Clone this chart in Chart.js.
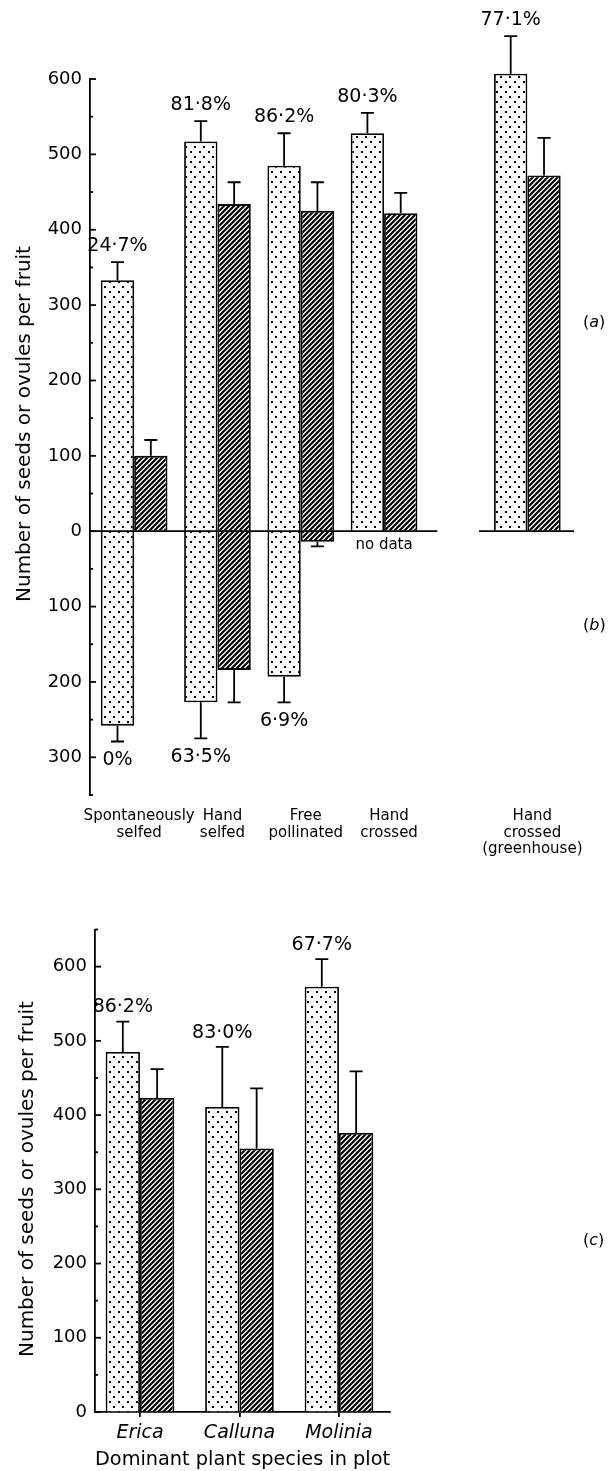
<!DOCTYPE html>
<html>
<head>
<meta charset="utf-8">
<title>Seeds and ovules per fruit</title>
<script src="https://cdn.jsdelivr.net/npm/chart.js@4/dist/chart.umd.min.js"></script>
<style>
  html, body { margin: 0; padding: 0; background: #fff; }
  #page { position: relative; width: 612px; height: 1471px; overflow: hidden;
          font-family: "DejaVu Sans", sans-serif; color: #000; }
  #page canvas { position: absolute; left: 0; }
  .ytitle { position: absolute; white-space: nowrap; font-size: 20px; line-height: 1;
            transform: translate(-50%, -50%) rotate(-90deg); }
  .panel { position: absolute; font-size: 16px; line-height: 1; transform: translateY(-50%); }
</style>
</head>
<body>
<div id="page">
  <canvas id="treatments" width="612" height="870" style="top:0"></canvas>
  <canvas id="plots" width="612" height="571" style="top:900px"></canvas>
  <div class="ytitle" style="left:23px; top:424px">Number of seeds or ovules per fruit</div>
  <div class="ytitle" style="left:26px; top:1179px">Number of seeds or ovules per fruit</div>
  <div class="panel" style="left:583px; top:322px">(<i>a</i>)</div>
  <div class="panel" style="left:583px; top:625px">(<i>b</i>)</div>
  <div class="panel" style="left:583px; top:1240px">(<i>c</i>)</div>
</div>
<script>
// ---- Pollination treatments, panels (a) and (b) ----
const treatments = [
  ['Spontaneously', 'selfed'],
  ['Hand', 'selfed'],
  ['Free', 'pollinated'],
  ['Hand', 'crossed'],
  ['Hand', 'crossed', '(greenhouse)']
];
// position of each treatment on the x axis (greenhouse set apart)
const treatmentPos = [1, 2, 3, 4, 5.72];

// (a) upper panel
const ovulesA    = [333, 517, 485, 528, 607];
const ovulesAErr = [24, 27, 43, 27, 50];
const seedsA     = [100, 434, 425, 422, 472];
const seedsAErr  = [21, 29, 38, 27, 50];
const pctA       = ['24·7%', '81·8%', '86·2%', '80·3%', '77·1%'];

// (b) lower panel, plotted downward from zero
const ovulesB    = [258, 227, 193, null, null];
const ovulesBErr = [21, 48, 34, null, null];
const seedsB     = [null, 184, 14, null, null];
const seedsBErr  = [null, 43, 6, null, null];
const pctB       = ['0%', '63·5%', '6·9%', '', ''];
const notesB     = ['', '', '', 'no data', ''];

// ---- Dominant plant species in plot, panel (c) ----
const species    = ['Erica', 'Calluna', 'Molinia'];
const speciesPos = [1, 2, 3];
const ovulesC    = [485, 411, 573];
const ovulesCErr = [41, 81, 37];
const seedsC     = [423, 355, 376];
const seedsCErr  = [39, 81, 83];
const pctC       = ['86·2%', '83·0%', '67·7%'];

const INK = 1.8; // stroke width for axes, outlines and error bars

Chart.defaults.color = '#000';
Chart.defaults.font.family = '"DejaVu Sans", sans-serif';

// fill patterns: stipple for ovules, diagonal hatching for seeds
function makeDots() {
  const w = 9, h = 10;
  const c = document.createElement('canvas');
  c.width = w; c.height = h;
  const g = c.getContext('2d');
  g.fillStyle = '#fff'; g.fillRect(0, 0, w, h);
  g.fillStyle = '#000';
  g.fillRect(1, 1, 2, 2);
  g.fillRect(5, 6, 2, 2);
  return g.createPattern(c, 'repeat');
}
function makeHatch() {
  const s = 5;
  const c = document.createElement('canvas');
  c.width = s; c.height = s;
  const g = c.getContext('2d');
  g.fillStyle = '#fff'; g.fillRect(0, 0, s, s);
  g.strokeStyle = '#000'; g.lineWidth = 2.2;
  g.beginPath();
  [0, s, 2 * s].forEach(k => { g.moveTo(k - s - 1, s + 1); g.lineTo(k + 1, -1); });
  g.stroke();
  return g.createPattern(c, 'repeat');
}
const dots = makeDots();
const hatch = makeHatch();

function points(pos, vals, sign) {
  return pos.map((x, i) => ({ x, y: vals[i] == null ? null : sign * vals[i] }));
}
function barSet(label, data, stack, fill, err, extra) {
  return Object.assign({
    label, data, stack, err,
    backgroundColor: fill, borderColor: '#000', borderWidth: INK,
    categoryPercentage: 0.8, barPercentage: 1, clip: false
  }, extra || {});
}

// error bars (one-sided, away from zero) and value labels
const errorBars = {
  id: 'errorBars',
  afterDatasetsDraw(chart, args, opts) {
    const { ctx } = chart;
    const y = chart.scales.y;
    ctx.save();
    ctx.strokeStyle = '#000';
    ctx.lineWidth = INK;
    chart.data.datasets.forEach((ds, di) => {
      const meta = chart.getDatasetMeta(di);
      meta.data.forEach((bar, i) => {
        const v = ds.data[i].y;
        if (v == null || ds.err[i] == null) return;
        const dir = v < 0 ? -1 : 1;
        const yEnd = y.getPixelForValue(v + dir * ds.err[i]);
        ctx.beginPath();
        ctx.moveTo(bar.x, bar.y); ctx.lineTo(bar.x, yEnd);
        ctx.moveTo(bar.x - 6.5, yEnd); ctx.lineTo(bar.x + 6.5, yEnd);
        ctx.stroke();
        if (ds.pct && ds.pct[i]) {
          ctx.font = '19px "DejaVu Sans", sans-serif';
          ctx.fillStyle = '#000';
          ctx.textAlign = 'center';
          ctx.textBaseline = 'middle';
          const gap = dir > 0 ? opts.above : opts.below;
          ctx.fillText(ds.pct[i], bar.x, yEnd - dir * gap);
        }
      });
    });
    ctx.restore();
  }
};

// inward tick marks on the value axis, long at labelled values
const innerTicks = {
  id: 'innerTicks',
  afterDraw(chart) {
    const y = chart.scales.y;
    const ctx = chart.ctx;
    ctx.save();
    ctx.strokeStyle = '#000';
    ctx.lineWidth = INK;
    y.ticks.forEach(t => {
      const py = y.getPixelForValue(t.value);
      const len = t.value % 100 === 0 ? 6 : 3;
      ctx.beginPath();
      ctx.moveTo(y.right, py);
      ctx.lineTo(y.right + len, py);
      ctx.stroke();
    });
    ctx.restore();
  }
};

// zero line segments and "no data" notes for the treatments panel
const zeroLine = {
  id: 'zeroLine',
  afterDatasetsDraw(chart, args, opts) {
    const { ctx } = chart;
    const x = chart.scales.x, y = chart.scales.y;
    const y0 = y.getPixelForValue(0);
    ctx.save();
    ctx.strokeStyle = '#000';
    ctx.lineWidth = INK;
    opts.spans.forEach(([a, b]) => {
      ctx.beginPath();
      ctx.moveTo(x.getPixelForValue(a), y0);
      ctx.lineTo(x.getPixelForValue(b), y0);
      ctx.stroke();
    });
    ctx.font = '15px "DejaVu Sans", sans-serif';
    ctx.fillStyle = '#000';
    ctx.textAlign = 'center';
    ctx.textBaseline = 'middle';
    notesB.forEach((n, i) => {
      if (n) ctx.fillText(n, x.getPixelForValue(treatmentPos[i]), y0 + 14);
    });
    ctx.restore();
  }
};

new Chart(document.getElementById('treatments'), {
  type: 'bar',
  data: {
    datasets: [
      barSet('Ovules (a)', points(treatmentPos, ovulesA, 1), 'ovules', dots, ovulesAErr, { pct: pctA }),
      barSet('Seeds (a)', points(treatmentPos, seedsA, 1), 'seeds', hatch, seedsAErr),
      barSet('Ovules (b)', points(treatmentPos, ovulesB, -1), 'ovules', dots, ovulesBErr, { pct: pctB }),
      barSet('Seeds (b)', points(treatmentPos, seedsB, -1), 'seeds', hatch, seedsBErr)
    ]
  },
  options: {
    responsive: false,
    animation: false,
    devicePixelRatio: 1,
    layout: { padding: { top: 79, right: 38, bottom: 0, left: 0 } },
    plugins: {
      legend: { display: false },
      tooltip: { enabled: false },
      errorBars: { above: 16, below: 19 },
      zeroLine: { spans: [[0.47, 4.64], [5.14, 6.28]] }
    },
    scales: {
      x: {
        type: 'linear', min: 0.47, max: 6.28, stacked: true, offset: false,
        afterBuildTicks: s => { s.ticks = treatmentPos.map(v => ({ value: v })); },
        afterFit: s => { s.height = 75; },
        grid: { display: false, offset: false },
        border: { display: false },
        ticks: {
          autoSkip: false, maxRotation: 0, minRotation: 0,
          padding: 5, labelOffset: 5,
          font: { size: 15, lineHeight: 1.1 },
          callback: (v, i) => treatments[i]
        }
      },
      y: {
        type: 'linear', min: -350, max: 600, stacked: true,
        afterFit: s => { s.width = 90; },
        grid: { drawOnChartArea: false, drawTicks: false },
        border: { display: true, color: '#000', width: INK },
        ticks: {
          stepSize: 50, autoSkip: false, padding: 8,
          font: { size: 18 },
          callback: v => (v % 100 === 0 ? String(Math.abs(v)) : '')
        }
      }
    }
  },
  plugins: [zeroLine, errorBars, innerTicks]
});

new Chart(document.getElementById('plots'), {
  type: 'bar',
  data: {
    datasets: [
      barSet('Ovules', points(speciesPos, ovulesC, 1), 'ovules', dots, ovulesCErr, { pct: pctC, categoryPercentage: 0.69 }),
      barSet('Seeds', points(speciesPos, seedsC, 1), 'seeds', hatch, seedsCErr, { categoryPercentage: 0.69 })
    ]
  },
  options: {
    responsive: false,
    animation: false,
    devicePixelRatio: 1,
    layout: { padding: { top: 29.5, right: 222, bottom: 0, left: 0 } },
    plugins: {
      legend: { display: false },
      tooltip: { enabled: false },
      errorBars: { above: 14, below: 14 }
    },
    scales: {
      x: {
        type: 'linear', min: 0.548, max: 3.513, stacked: true, offset: false,
        afterBuildTicks: s => { s.ticks = speciesPos.map(v => ({ value: v })); },
        afterFit: s => { s.height = 59; },
        grid: { drawOnChartArea: false, drawTicks: true, tickLength: 5, color: '#000', lineWidth: INK, offset: false },
        border: { display: true, color: '#000', width: INK },
        ticks: {
          autoSkip: false, maxRotation: 0, minRotation: 0, padding: 5,
          font: { size: 19, style: 'italic' },
          callback: (v, i) => species[i]
        },
        title: {
          display: true, text: 'Dominant plant species in plot',
          font: { size: 20, lineHeight: 1.1 }, padding: { top: 0, bottom: 0 }
        }
      },
      y: {
        type: 'linear', min: 0, max: 650, stacked: true,
        afterFit: s => { s.width = 95; },
        grid: { drawOnChartArea: false, drawTicks: false },
        border: { display: true, color: '#000', width: INK },
        ticks: {
          stepSize: 50, autoSkip: false, padding: 8,
          font: { size: 18 },
          callback: v => (v % 100 === 0 ? String(v) : '')
        }
      }
    }
  },
  plugins: [errorBars, innerTicks]
});
</script>
</body>
</html>
